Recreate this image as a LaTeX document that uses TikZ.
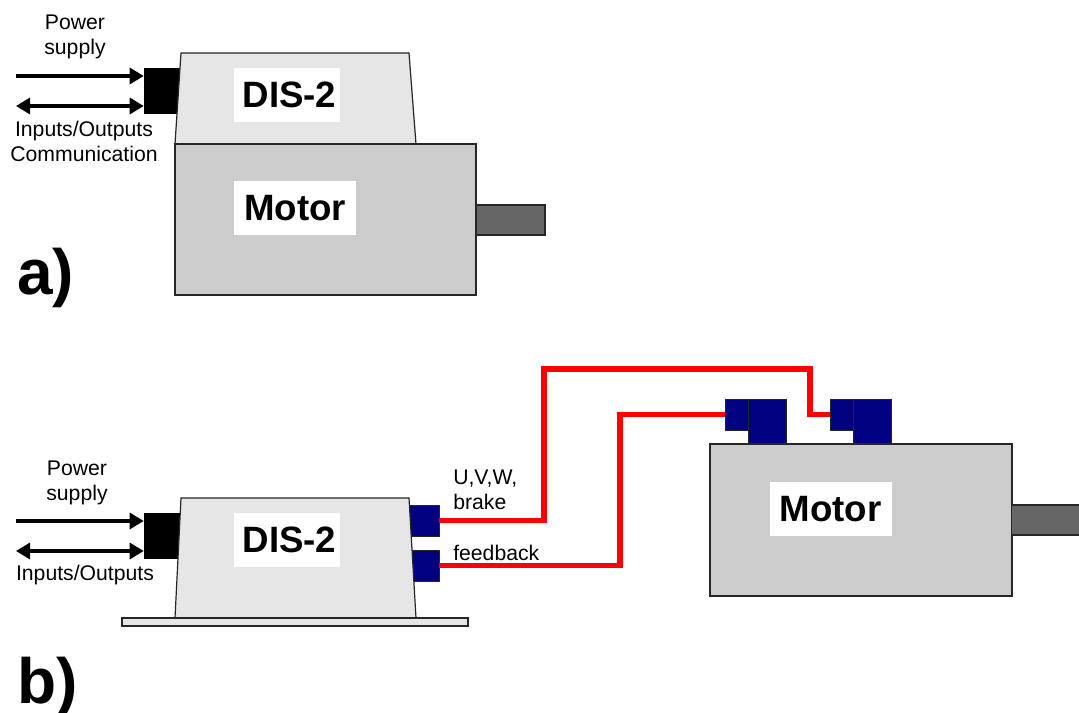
\documentclass[tikz,border=0pt]{standalone}
\usepackage{fontspec}
\setmainfont{Liberation Sans}
\usetikzlibrary{arrows.meta}
\definecolor{disgray}{HTML}{E6E6E6}
\definecolor{motorgray}{HTML}{CCCCCC}
\definecolor{shaftgray}{HTML}{666666}
\definecolor{plugblue}{HTML}{000080}
\newcommand{\nametext}[1]{\raisebox{-0.75pt}{#1}}
\tikzset{
  block/.style={draw=black!85, line width=0.9pt, inner sep=0pt},
  plug/.style={block, fill=plugblue, line width=0.6pt},
  blackplug/.style={fill=black, inner sep=0pt},
  namebox/.style={fill=white, inner sep=0pt, font=\bfseries\fontsize{27.5}{30}\selectfont},
  caption/.style={inner sep=0pt, align=center, font=\fontsize{15.9}{18.75}\selectfont},
  panel/.style={inner sep=0pt, anchor=base west, font=\bfseries\fontsize{48}{52}\selectfont},
  signal/.style={line width=2.4pt, -{Triangle[length=10.5pt,width=12pt]}},
  signalboth/.style={signal, {Triangle[length=10.5pt,width=12pt]}-{Triangle[length=10.5pt,width=12pt]}},
  cable/.style={draw=red, line width=4.2pt, miter limit=10}
}
\begin{document}
\begin{tikzpicture}[x=0.75pt, y=-0.75pt]
  \useasboundingbox (0,0) rectangle (1079,713);
  \node[blackplug, minimum width=27.75pt, minimum height=34.5pt] (plugA) at (162.5,91) {};
  \draw[block, fill=disgray] (181,53) -- (409,53) -- (416,144) -- (175,144) -- cycle;
  \node[block, fill=motorgray, minimum width=225.75pt, minimum height=113.25pt] (motorA) at (325.5,219.5) {};
  \node[block, fill=shaftgray, minimum width=51.75pt, minimum height=22.5pt] (shaftA) at (510.5,220) {};
  \node[namebox, minimum width=79.5pt, minimum height=40.5pt] (disA) at (287,95) {\nametext{\kern3.75pt DIS-2}};
  \node[namebox, minimum width=91.5pt, minimum height=40.5pt] (nameA) at (295,208) {\nametext{Motor}};
  \coordinate (powerA) at (16,76);
  \coordinate (ioA) at (16,106);
  \draw[signal] (powerA) -- (powerA -| plugA.west);
  \draw[signalboth] (ioA) -- (ioA -| plugA.west);
  \node[caption] (powerTextA) at (75,37) {Power\\supply};
  \node[caption] (ioTextA) at (84,141) {Inputs/Outputs\\Communication};
  \node[panel] (labelA) at (17,295) {a)};

  \node[blackplug, minimum width=27.75pt, minimum height=34.5pt] (plugB) at (162.5,535.5) {};
  \node[plug, minimum width=22.5pt, minimum height=23.25pt] (outU) at (424,520.5) {};
  \node[plug, minimum width=22.5pt, minimum height=23.25pt] (outF) at (424,565.5) {};
  \draw[block, fill=disgray] (181,498) -- (409,498) -- (416,618) -- (175,618) -- cycle;
  \node[block, fill=disgray, minimum width=259.5pt, minimum height=6pt] (base) at (295,622) {};
  \node[plug, minimum width=28.5pt, minimum height=33.75pt] (bodyF) at (767,421.5) {};
  \node[plug, minimum width=28.5pt, minimum height=33.75pt] (bodyU) at (872,421.5) {};
  \node[plug, minimum width=17.25pt, minimum height=23.25pt] (inF) at (736.5,414.5) {};
  \node[plug, minimum width=17.25pt, minimum height=23.25pt] (inU) at (841.5,414.5) {};
  \node[block, fill=motorgray, minimum width=226.5pt, minimum height=114pt] (motorB) at (861,520) {};
  \node[block, fill=shaftgray, minimum width=51.75pt, minimum height=22.5pt] (shaftB) at (1046,520) {};
  \node[namebox, minimum width=79.5pt, minimum height=40.5pt] (disB) at (287,540) {\nametext{\kern3.75pt DIS-2}};
  \node[namebox, minimum width=91.5pt, minimum height=40.5pt] (nameB) at (830.5,509) {\nametext{Motor}};
  \draw[cable] (outU.east) -| (544,369) -- (810,369) |- (inU.west);
  \draw[cable] (outF.east) -| (620,414.5) -- (inF.west);
  \coordinate (powerB) at (16,521);
  \coordinate (ioB) at (16,551);
  \draw[signal] (powerB) -- (powerB -| plugB.west);
  \draw[signalboth] (ioB) -- (ioB -| plugB.west);
  \node[caption] (powerTextB) at (77,483) {Power\\supply};
  \node[caption] (ioTextB) at (85,575) {Inputs/Outputs};
  \node[caption, align=left, anchor=west] (uvwText) at (453,490) {U,V,W,\\brake};
  \node[caption, anchor=west] (fbText) at (453,553) {feedback};
  \node[panel] (labelB) at (17,703) {b)};
\end{tikzpicture}
\end{document}
